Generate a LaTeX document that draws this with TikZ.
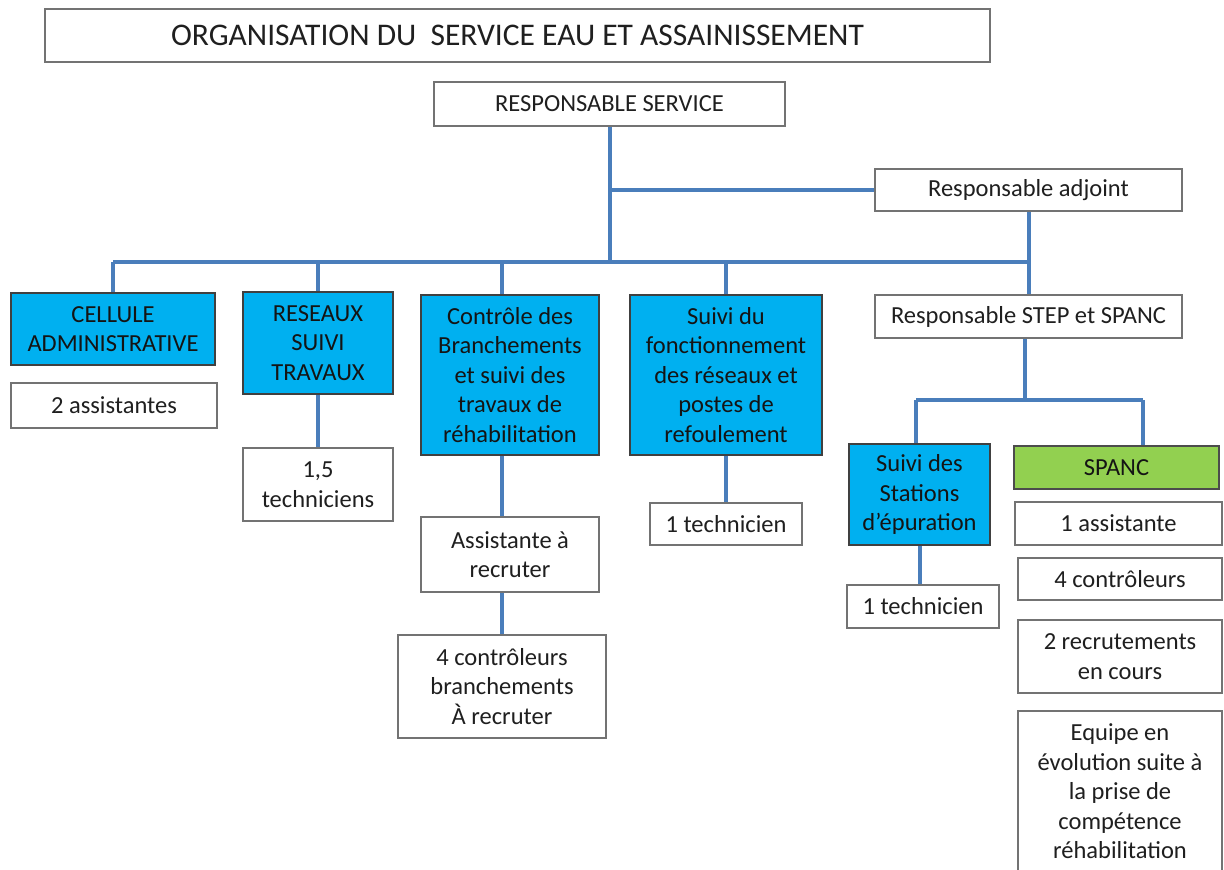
\documentclass[tikz,border=0pt]{standalone}
\usepackage{fontspec}
\setmainfont{Carlito}
\definecolor{cyanbox}{HTML}{00B0F0}
\definecolor{greenbox}{HTML}{92D050}
\definecolor{lineblue}{HTML}{4A7EBB}
\begin{document}
\begin{tikzpicture}[x=1pt,y=-1pt,
  sz/.style 2 args={minimum width=#1pt, minimum height=#2pt},
  box/.style={draw=black!55, line width=1.5pt, fill=white, align=center, inner sep=0pt, text=black!88, font=\fontsize{24.5}{29.5}\selectfont},
  bluebox/.style={box, fill=cyanbox, draw=black!75, text=black!92},
  greenbox/.style={box, fill=greenbox, draw=black!70, text=black!92},
  conn/.style={draw=lineblue, line width=4pt}]
\useasboundingbox (0,0) rectangle (1224,870);
\fill[white] (0,0) rectangle (1224,870);
% nodes
\node[box, sz={945}{53}, font=\fontsize{31.5}{37}\selectfont] (title) at (517.5,35.5) {ORGANISATION DU\ \ SERVICE EAU ET ASSAINISSEMENT};
\node[box, sz={351}{44}] (rs) at (609.5,104) {RESPONSABLE SERVICE};
\node[box, sz={307}{42}] (adj) at (1028.5,190) {Responsable adjoint};
\node[box, sz={307}{43}] (step) at (1028.5,316.5) {Responsable STEP et SPANC};
\node[bluebox, sz={204}{72}] (cell) at (113,329) {CELLULE\\ADMINISTRATIVE};
\node[box, sz={206}{45}] (ass2) at (114,405.5) {2 assistantes};
\node[bluebox, sz={150}{102}] (res) at (318,343) {RESEAUX\\SUIVI\\TRAVAUX};
\node[box, sz={150}{73}] (tech15) at (318,484.5) {1,5\\techniciens};
\node[bluebox, sz={178}{160}] (cont) at (510,375) {Contrôle des\\Branchements\\et suivi des\\travaux de\\réhabilitation};
\node[box, sz={178}{75}] (assr) at (510,554.5) {Assistante à\\recruter};
\node[box, sz={208}{103}] (ctrl4) at (502,686.5) {4 contrôleurs\\branchements\\À recruter};
\node[bluebox, sz={192}{160}] (fonc) at (726,375) {Suivi du\\fonctionnement\\des réseaux et\\postes de\\refoulement};
\node[box, sz={152}{42}] (tech1) at (726,524) {1 technicien};
\node[bluebox, sz={141}{101}] (stat) at (919.5,494.5) {Suivi des\\Stations\\d’épuration};
\node[box, sz={152}{43}] (tech2) at (923,606.5) {1 technicien};
\node[greenbox, sz={205}{43}] (spanc) at (1116.5,467.5) {SPANC};
\node[box, sz={207}{43}] (ass1) at (1118.5,523.5) {1 assistante};
\node[box, sz={204}{42}] (ctrl) at (1120,579) {4 contrôleurs};
\node[box, sz={204}{73}] (recr) at (1120,656.5) {2 recrutements\\en cours};
\node[box, sz={204}{161}] (equipe) at (1120,791.5) {Equipe en\\évolution suite à\\la prise de\\compétence\\réhabilitation};
% connectors
\coordinate (busL) at (113,262);
\coordinate (busR) at (1028.5,262);
\coordinate (dC) at (502,262);
\coordinate (sJ) at (1025,400);
\coordinate (sL) at (916,400);
\coordinate (sR) at (1143,400);
\draw[conn] (rs.south) -- (rs.south |- busL);
\draw[conn] (rs.south |- adj.west) -- (adj.west);
\draw[conn] (busL) -- (busR);
\draw[conn] (adj.south) -- (step.north);
\draw[conn] (busL) -- (cell.north);
\draw[conn] (busL -| res.north) -- (res.north);
\draw[conn] (dC) -- (dC |- cont.north);
\draw[conn] (busL -| fonc.north) -- (fonc.north);
\draw[conn] (res.south) -- (tech15.north);
\draw[conn] (dC |- cont.south) -- (dC |- assr.north);
\draw[conn] (dC |- assr.south) -- (dC |- ctrl4.north);
\draw[conn] (fonc.south) -- (tech1.north);
\draw[conn] (step.south -| sJ) -- (sJ);
\draw[conn] (sL) -- (sR);
\draw[conn] (sL) -- (sL |- stat.north);
\draw[conn] (sR) -- (sR |- spanc.north);
\draw[conn] (stat.south) -- (stat.south |- tech2.north);
\end{tikzpicture}
\end{document}
